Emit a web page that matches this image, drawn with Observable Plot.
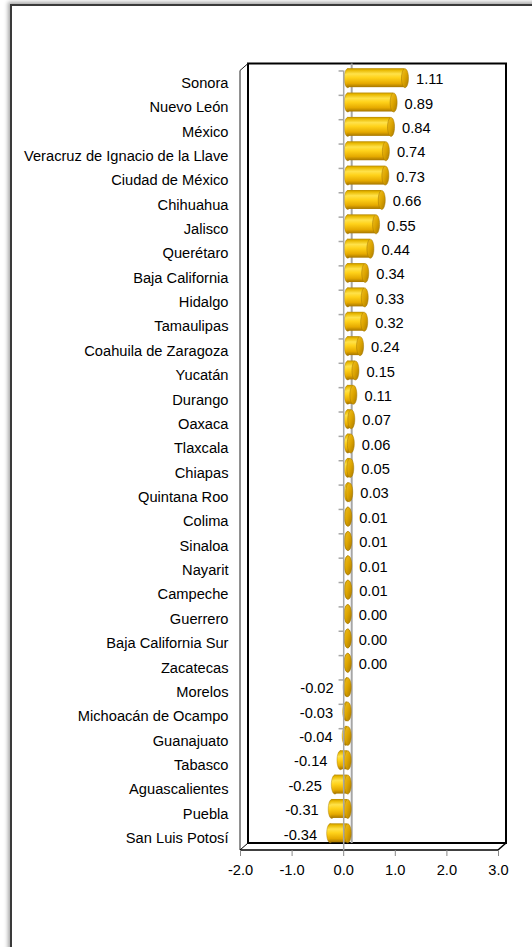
<!DOCTYPE html>
<html><head><meta charset="utf-8">
<script src="https://cdn.jsdelivr.net/npm/d3@7"></script>
<script src="https://cdn.jsdelivr.net/npm/@observablehq/plot@0.6"></script>
<style>
html,body{margin:0;padding:0;width:532px;height:947px;overflow:hidden;background:#fff;}
#frame{position:absolute;left:10px;top:4px;width:600px;height:1000px;border:2px solid #3a3a3a;box-shadow:0 0 4px 2px rgba(0,0,0,0.35);background:#fff;}
#chart{position:absolute;left:0;top:0;}
</style></head><body>
<div id="frame"></div><div id="chart"></div>
<script>
const states = ["Sonora","Nuevo León","México","Veracruz de Ignacio de la Llave","Ciudad de México","Chihuahua","Jalisco","Querétaro","Baja California","Hidalgo","Tamaulipas","Coahuila de Zaragoza","Yucatán","Durango","Oaxaca","Tlaxcala","Chiapas","Quintana Roo","Colima","Sinaloa","Nayarit","Campeche","Guerrero","Baja California Sur","Zacatecas","Morelos","Michoacán de Ocampo","Guanajuato","Tabasco","Aguascalientes","Puebla","San Luis Potosí"];
const values = [1.11,0.89,0.84,0.74,0.73,0.66,0.55,0.44,0.34,0.33,0.32,0.24,0.15,0.11,0.07,0.06,0.05,0.03,0.01,0.01,0.01,0.01,0.00,0.00,0.00,-0.02,-0.03,-0.04,-0.14,-0.25,-0.31,-0.34];
const xTicks = [-2,-1,0,1,2,3];
const xDomain = [-2,3];

const data = states.map((s,i)=>({state:s, value:values[i]}));
const pos = data.filter(d=>d.value>=0);
const neg = data.filter(d=>d.value<0);

function ellipseSymbol(rx, ry){
  return {draw(ctx){
    const k=0.5523;
    ctx.moveTo(rx,0);
    ctx.bezierCurveTo(rx,ry*k,rx*k,ry,0,ry);
    ctx.bezierCurveTo(-rx*k,ry,-rx,ry*k,-rx,0);
    ctx.bezierCurveTo(-rx,-ry*k,-rx*k,-ry,0,-ry);
    ctx.bezierCurveTo(rx*k,-ry,rx,-ry*k,rx,0);
    ctx.closePath();
  }};
}

function defsMark(){
  const defs = d3.create("svg:defs");
  const g = defs.append("linearGradient").attr("id","cyl").attr("x1",0).attr("y1",0).attr("x2",0).attr("y2",1);
  [[0,"#b88a00"],[0.1,"#e8b800"],[0.3,"#ffe24a"],[0.5,"#ffd21a"],[0.8,"#e6aa00"],[1,"#a67600"]]
    .forEach(([o,c])=>g.append("stop").attr("offset",o).attr("stop-color",c));
  const c = defs.append("linearGradient").attr("id","cap").attr("x1",0).attr("y1",0).attr("x2",1).attr("y2",1);
  [[0,"#f0c020"],[0.5,"#dca400"],[1,"#a87800"]]
    .forEach(([o,cc])=>c.append("stop").attr("offset",o).attr("stop-color",cc));
  return defs.node();
}

const DX = 8, DY = -7;
function boxMark(index, scales, values, dim){
  const L = dim.marginLeft, R = dim.width - dim.marginRight, T = dim.marginTop, B = dim.height - dim.marginBottom;
  const g = d3.create("svg:g").attr("fill","none");
  g.append("rect").attr("x",L+DX).attr("y",T+DY).attr("width",R-L).attr("height",B-T)
    .attr("stroke","#000").attr("stroke-width",2);
  const lines = [[L,T,L,B,1,"#222"],[L,T,L+DX,T+DY,1,"#222"],[L,B,R,B,1.5,"#000"],[R,B,R+DX,B+DY,1.5,"#000"],[L,B,L+DX,B+DY,1,"#000"]];
  lines.forEach(([x1,y1,x2,y2,w,c])=>g.append("line").attr("x1",x1).attr("y1",y1).attr("x2",x2).attr("y2",y2).attr("stroke",c).attr("stroke-width",w));
  return g.node();
}

const chart = Plot.plot({
  width: 532,
  height: 947,
  marginLeft: 240,
  marginRight: 34,
  marginTop: 70.5,
  marginBottom: 97,
  style: {background:"transparent", fontSize:"14.67px", fontFamily:"'Liberation Sans', Arial, sans-serif", color:"#000"},
  x: {domain: xDomain, label: null, axis: null},
  y: {domain: states, label: null, axis: null, padding: 0, round: false},
  marks: [
    defsMark,
    boxMark,
    Plot.ruleX([0], {stroke:"#a6a6a6", strokeWidth:2, dx:DX, dy:DY}),
    Plot.ruleY(states, {y: d=>d, x1: -0.09, x2: 0, dy: -12.2, stroke:"#a6a6a6", strokeWidth:1.5}),
    Plot.dot(data, {x: d=>Math.min(0,d.value), y:"state", symbol: ellipseSymbol(3.5,9.5), fill:"url(#cyl)", stroke:"#a07400", strokeWidth:0.4, dx:4, dy:-5}),
    Plot.barX(data, {x1: 0, x2: "value", y:"state", fill:"url(#cyl)", insetTop:2.7, insetBottom:2.7, dx:4, dy:-5}),
    Plot.dot(data, {x: d=>Math.max(0,d.value), y:"state", symbol: ellipseSymbol(3.5,9.5), fill:"url(#cap)", stroke:"#a07400", strokeWidth:0.5, dx:4, dy:-5}),
    Plot.ruleX([0], {stroke:"#a6a6a6", strokeWidth:1.5}),
    Plot.text(pos, {x:"value", y:"state", text: d=>d.value.toFixed(2), textAnchor:"start", dx:15, dy:-3.5, fill:"#000"}),
    Plot.text(neg, {x:"value", y:"state", text: d=>d.value.toFixed(2), textAnchor:"end", dx:-9, dy:-3.5, fill:"#000"}),
    Plot.axisY({tickSize:0, tickPadding:12, label:null}),
    Plot.axisX({ticks: xTicks, tickFormat: d=>d.toFixed(1), tickSize:6, tickPadding:8, stroke:"#888", label:null})
  ]
});
document.getElementById("chart").appendChild(chart);
</script>
</body></html>
